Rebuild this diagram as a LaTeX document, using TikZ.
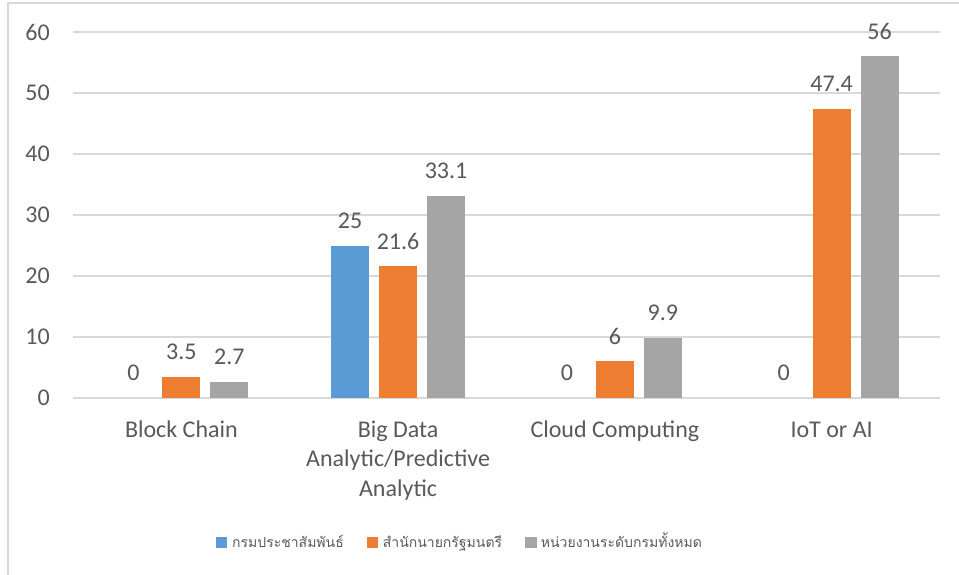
\documentclass[tikz,border=0pt]{standalone}
\usepackage{fontspec}
\setmainfont{Carlito}
\newfontfamily\thaifont[Script=Thai]{Loma}
\definecolor{txt}{HTML}{595959}
\definecolor{gridc}{HTML}{D9D9D9}
\definecolor{sblue}{HTML}{5B9BD5}
\definecolor{sorange}{HTML}{ED7D31}
\definecolor{sgray}{HTML}{A5A5A5}
\tikzset{
  gridline/.style={draw=gridc,line width=1.3pt},
  lbl/.style={text=txt,inner sep=0pt,font=\fontsize{24}{29.5}\selectfont},
  leg/.style={text=txt,inner sep=0pt,anchor=base west,font=\thaifont\fontsize{14}{17}\selectfont},
}
\begin{document}
\begin{tikzpicture}[x=1pt,y=-1pt]
\useasboundingbox (0,0) rectangle (959,575);
\draw[gridc,line width=1.5pt] (8,575) -- (8,3) -- (959,3);
\foreach \v [count=\i from 0] in {0,10,20,30,40,50,60} {
  \draw[gridline] (73,398-\i*61) -- (939.5,398-\i*61);
  \node[lbl,anchor=east] (ax\i) at (50,398-\i*61) {\v};
}
\fill[sblue] (398.1-67,398) rectangle (398.1-29,398-25*6.1);
\foreach \c/\a/\b/\g [count=\k] in {181.4/0/3.5/2.7, 398.1/25/21.6/33.1, 614.9/0/6/9.9, 831.6/0/47.4/56} {
  \fill[sorange] (\c-19,398) rectangle (\c+19,398-\b*6.1);
  \fill[sgray] (\c+29,398) rectangle (\c+67,398-\g*6.1);
  \node[lbl] (va\k) at (\c-48,398-\a*6.1-25) {\a};
  \node[lbl] (vb\k) at (\c,398-\b*6.1-25) {\b};
  \node[lbl] (vg\k) at (\c+48,398-\g*6.1-25) {\g};
}
\node[lbl,anchor=base] (c1) at (181.4,437) {Block Chain};
\node[lbl,anchor=base,align=center] (c2) at (398.1,496) {Big Data\\Analytic/Predictive\\Analytic};
\node[lbl,anchor=base] (c3) at (614.9,437) {Cloud Computing};
\node[lbl,anchor=base] (c4) at (831.6,437) {IoT or AI};
\fill[sblue] (215.7,536.7) rectangle (227.3,548.3);
\node[leg] (l1) at (232,547) {กรมประชาสัมพันธ์};
\fill[sorange] (366.7,536.7) rectangle (378.3,548.3);
\node[leg] (l2) at (382.7,547) {สำนักนายกรัฐมนตรี};
\fill[sgray] (525,536.7) rectangle (536.7,548.3);
\node[leg] (l3) at (540.7,547) {หน่วยงานระดับกรมทั้งหมด};
\end{tikzpicture}
\end{document}
